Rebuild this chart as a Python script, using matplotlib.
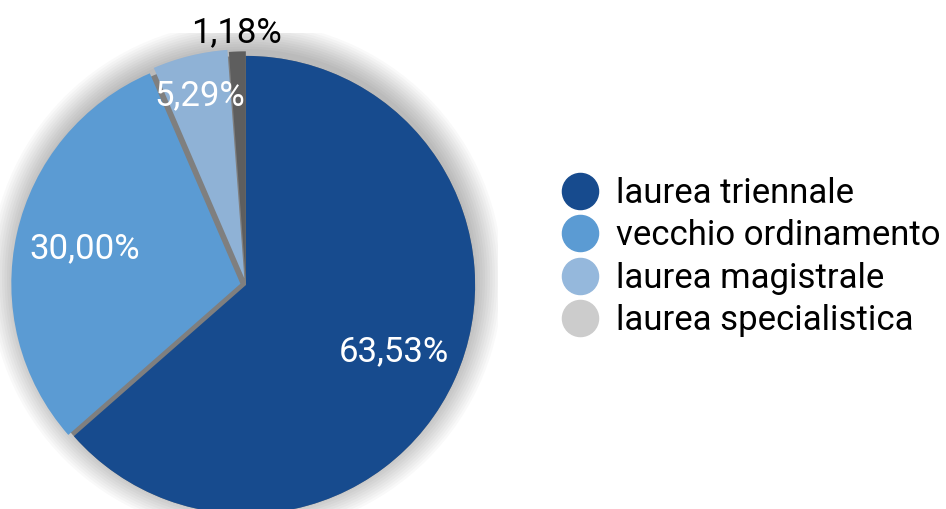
import matplotlib.pyplot as plt
from matplotlib.lines import Line2D
from matplotlib.patches import Circle
import numpy as np

plt.rcParams['font.family'] = ['Roboto', 'DejaVu Sans']

categories = ["laurea triennale", "vecchio ordinamento", "laurea magistrale", "laurea specialistica"]
values = [63.53, 30.00, 5.29, 1.18]
labels = ["63,53%", "30,00%", "5,29%", "1,18%"]

colors = ["#174b8e", "#5b9bd3", "#95b8dc", "#cccccc"]
draw_colors = ["#174b8e", "#5b9bd3", "#8fb2d6", "#5e5e5e"]
label_colors = ["white", "white", "white", "black"]
label_dist = [0.71, 0.72, 0.85, 1.10]
explode = [0.0, 0.025, 0.03, 0.02]

fig = plt.figure(figsize=(9.46, 5.09), dpi=100)
# square axes around the pie (center ~ (246, 285) px, radius ~229 px)
half = 252
ax = fig.add_axes([(246 - half) / 946, (509 - 285 - half) / 509, 2 * half / 946, 2 * half / 509])

# soft shadow around the pie, a bit stronger on top
for r in np.linspace(1.12, 1.0, 12):
    ax.add_patch(Circle((0.0, 0.03), r, color="black", alpha=0.025, lw=0, zorder=0))
ax.add_patch(Circle((0, 0), 1.0, color="#7f7f7f", lw=0, zorder=0.5))

wedges, _ = ax.pie(values, colors=draw_colors, startangle=90, counterclock=False,
                   radius=1.0, explode=explode,
                   wedgeprops=dict(linewidth=0))
for w in wedges:
    w.set_zorder(1)

for w, lab, d, c in zip(wedges, labels, label_dist, label_colors):
    ang = np.deg2rad((w.theta1 + w.theta2) / 2)
    ax.text(d * np.cos(ang), d * np.sin(ang), lab, color=c, fontsize=25,
            ha="center", va="center", zorder=3)

ax.set_xlim(-1.1, 1.1)
ax.set_ylim(-1.1, 1.1)
ax.set_aspect("equal")
ax.axis("off")

handles = [Line2D([], [], marker="o", linestyle="", markersize=26,
                  markerfacecolor=col, markeredgecolor=col) for col in colors]
fig.legend(handles, categories, loc="center left", bbox_to_anchor=(0.576, 0.495),
           frameon=False, prop=dict(size=25),
           handletextpad=0.55, labelspacing=0.27, handlelength=1.0, borderpad=0)

plt.savefig("out.png", dpi=100)
